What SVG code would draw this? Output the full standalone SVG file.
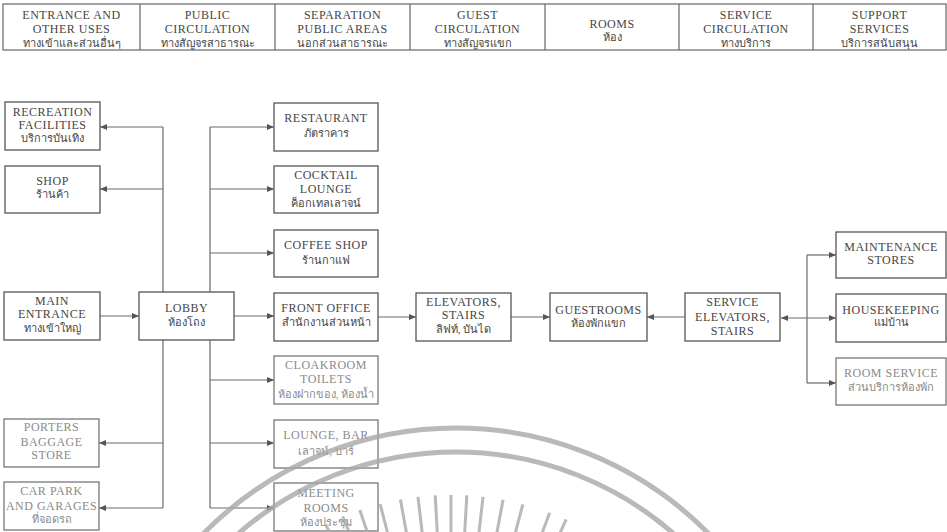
<svg xmlns="http://www.w3.org/2000/svg" width="947" height="532" viewBox="0 0 947 532">
<style>
text{font-family:"Liberation Serif","DejaVu Serif",serif;font-size:12px;letter-spacing:0.5px;text-anchor:middle;fill:#454545}
text.th{font-size:11px;letter-spacing:0}
.lt text{fill:#8a8a8a}
.box{fill:#fff;stroke:#555;stroke-width:1.3}
.lt .box{stroke:#777}
.hd{fill:#fff;stroke:#666;stroke-width:1.2}
.c{fill:none;stroke:#6a6a6a;stroke-width:1.2}
.wm{fill:none;stroke:#a8a8a8;opacity:0.8}
</style>
<defs>
<marker id="ah" markerUnits="userSpaceOnUse" markerWidth="8" markerHeight="7" refX="7" refY="3.5" orient="auto-start-reverse">
<path d="M0,0.5 L7,3.5 L0,6.5 z" fill="#555"/>
</marker>
</defs>
<rect width="947" height="532" fill="#fff"/>

<g id="header">
<rect class="hd" x="3" y="4" width="943" height="46"/>
<path d="M140,4V50M275,4V50M410,4V50M545,4V50M679,4V50M813,4V50" stroke="#666" stroke-width="1.2"/>
<text x="71.5" y="19">ENTRANCE AND</text><text x="71.5" y="33">OTHER USES</text><text class="th" x="71.5" y="47">ทางเข้าและส่วนอื่นๆ</text>
<text x="207.5" y="19">PUBLIC</text><text x="207.5" y="33">CIRCULATION</text><text class="th" x="207.5" y="47">ทางสัญจรสาธารณะ</text>
<text x="342.5" y="19">SEPARATION</text><text x="342.5" y="33">PUBLIC AREAS</text><text class="th" x="342.5" y="47">นอกส่วนสาธารณะ</text>
<text x="477.5" y="19">GUEST</text><text x="477.5" y="33">CIRCULATION</text><text class="th" x="477.5" y="47">ทางสัญจรแขก</text>
<text x="612" y="28">ROOMS</text><text class="th" x="612" y="41">ห้อง</text>
<text x="746" y="19">SERVICE</text><text x="746" y="33">CIRCULATION</text><text class="th" x="746" y="47">ทางบริการ</text>
<text x="879.5" y="19">SUPPORT</text><text x="879.5" y="33">SERVICES</text><text class="th" x="879.5" y="47">บริการสนับสนุน</text>
</g>

<g id="connectors">
<path class="c" d="M100,316H139" marker-end="url(#ah)"/>
<path class="c" d="M163,292V127M163,340V508"/>
<path class="c" d="M163,127H100" marker-end="url(#ah)"/>
<path class="c" d="M163,189H100" marker-end="url(#ah)"/>
<path class="c" d="M163,443H99" marker-end="url(#ah)"/>
<path class="c" d="M163,508H99" marker-end="url(#ah)"/>
<path class="c" d="M210,292V127M210,340V508"/>
<path class="c" d="M210,127H274" marker-end="url(#ah)"/>
<path class="c" d="M210,189H274" marker-end="url(#ah)"/>
<path class="c" d="M210,253H274" marker-end="url(#ah)"/>
<path class="c" d="M234,316H274" marker-end="url(#ah)"/>
<path class="c" d="M210,380H274" marker-end="url(#ah)"/>
<path class="c" d="M210,443H274" marker-end="url(#ah)"/>
<path class="c" d="M210,508H274" marker-end="url(#ah)"/>
<path class="c" d="M378,317H416" marker-end="url(#ah)"/>
<path class="c" d="M511,317H550" marker-end="url(#ah)"/>
<path class="c" d="M685,317H647" marker-end="url(#ah)"/>
<path class="c" d="M781,318H836" stroke-width="2" stroke="#444" marker-start="url(#ah)" marker-end="url(#ah)"/>
<path class="c" d="M807,255V383"/>
<path class="c" d="M807,255H836" marker-end="url(#ah)"/>
<path class="c" d="M807,383H836" marker-end="url(#ah)"/>
</g>

<g id="recreation"><rect class="box" x="5" y="102" width="95" height="48"/><text x="52.5" y="116">RECREATION</text><text x="52.5" y="129">FACILITIES</text><text class="th" x="52.5" y="142">บริการบันเทิง</text></g>
<g id="shop"><rect class="box" x="5" y="166" width="95" height="47"/><text x="52.5" y="185">SHOP</text><text class="th" x="52.5" y="198">ร้านค้า</text></g>
<g id="main-entrance"><rect class="box" x="4" y="292" width="96" height="48"/><text x="52" y="305">MAIN</text><text x="52" y="318">ENTRANCE</text><text class="th" x="52" y="332">ทางเข้าใหญ่</text></g>
<g id="porters" class="lt"><rect class="box" x="4" y="419" width="95" height="48"/><text x="51.5" y="431">PORTERS</text><text x="51.5" y="446">BAGGAGE</text><text x="51.5" y="459">STORE</text></g>
<g id="car-park" class="lt"><rect class="box" x="4" y="482" width="95" height="48"/><text x="51.5" y="495">CAR PARK</text><text x="51.5" y="510">AND GARAGES</text><text class="th" x="51.5" y="523">ที่จอดรถ</text></g>
<g id="lobby"><rect class="box" x="139" y="292" width="95" height="48"/><text x="186.5" y="312">LOBBY</text><text class="th" x="186.5" y="326">ห้องโถง</text></g>
<g id="restaurant"><rect class="box" x="274" y="103" width="104" height="48"/><text x="326" y="122">RESTAURANT</text><text class="th" x="326" y="137">ภัตราคาร</text></g>
<g id="cocktail"><rect class="box" x="274" y="166" width="104" height="47"/><text x="326" y="179">COCKTAIL</text><text x="326" y="193">LOUNGE</text><text class="th" x="326" y="207">ค็อกเทลเลาจน์</text></g>
<g id="coffee-shop"><rect class="box" x="274" y="230" width="104" height="47"/><text x="326" y="249">COFFEE SHOP</text><text class="th" x="326" y="264">ร้านกาแฟ</text></g>
<g id="front-office"><rect class="box" x="274" y="293" width="104" height="48"/><text x="326" y="312">FRONT OFFICE</text><text class="th" x="326" y="326">สำนักงานส่วนหน้า</text></g>
<g id="cloakroom" class="lt"><rect class="box" x="274" y="356" width="104" height="48"/><text x="326" y="369">CLOAKROOM</text><text x="326" y="383">TOILETS</text><text class="th" x="326" y="398">ห้องฝากของ, ห้องน้ำ</text></g>
<g id="lounge-bar" class="lt"><rect class="box" x="274" y="420" width="104" height="48"/><text x="326" y="439">LOUNGE, BAR</text><text class="th" x="326" y="455">เลาจน์, บาร์</text></g>
<g id="meeting" class="lt"><rect class="box" x="274" y="483" width="104" height="48"/><text x="326" y="497">MEETING</text><text x="326" y="512">ROOMS</text><text class="th" x="326" y="526">ห้องประชุม</text></g>
<g id="elevators"><rect class="box" x="416" y="293" width="95" height="48"/><text x="463.5" y="306">ELEVATORS,</text><text x="463.5" y="319">STAIRS</text><text class="th" x="463.5" y="333">ลิฟท์, บันได</text></g>
<g id="guestrooms"><rect class="box" x="550" y="293" width="97" height="48"/><text x="598.5" y="314">GUESTROOMS</text><text class="th" x="598.5" y="327">ห้องพักแขก</text></g>
<g id="service-elevators"><rect class="box" x="685" y="293" width="95" height="48"/><text x="732.5" y="306">SERVICE</text><text x="732.5" y="321">ELEVATORS,</text><text x="732.5" y="335">STAIRS</text></g>
<g id="maintenance"><rect class="box" x="836" y="232" width="110" height="46"/><text x="891" y="251">MAINTENANCE</text><text x="891" y="264">STORES</text></g>
<g id="housekeeping"><rect class="box" x="836" y="294" width="110" height="48"/><text x="891" y="314">HOUSEKEEPING</text><text class="th" x="891" y="326">แม่บ้าน</text></g>
<g id="room-service" class="lt"><rect class="box" x="836" y="358" width="110" height="47"/><text x="891" y="377">ROOM SERVICE</text><text class="th" x="891" y="391">ส่วนบริการห้องพัก</text></g>

<g id="watermark">
<circle class="wm" cx="456" cy="783" r="355" stroke-width="5"/>
<circle class="wm" cx="456" cy="783" r="331" stroke-width="5"/>
<g class="wm" stroke-width="3" transform="translate(451,778)">
<path d="M0,-283V-230" transform="rotate(-30)"/><path d="M0,-283V-230" transform="rotate(-26.3)"/><path d="M0,-283V-230" transform="rotate(-22.5)"/><path d="M0,-283V-230" transform="rotate(-18.8)"/><path d="M0,-283V-230" transform="rotate(-14.5)"/><path d="M0,-283V-230" transform="rotate(-10.3)"/><path d="M0,-283V-230" transform="rotate(-6.7)"/><path d="M0,-283V-230" transform="rotate(-3.2)"/><path d="M0,-283V-230"/><path d="M0,-283V-230" transform="rotate(3.2)"/><path d="M0,-283V-230" transform="rotate(6.5)"/><path d="M0,-283V-230" transform="rotate(10.6)"/><path d="M0,-283V-230" transform="rotate(14.7)"/><path d="M0,-283V-230" transform="rotate(20.4)"/><path d="M0,-283V-230" transform="rotate(24)"/><path d="M0,-283V-230" transform="rotate(30)"/>
</g>
</g>
</svg>
